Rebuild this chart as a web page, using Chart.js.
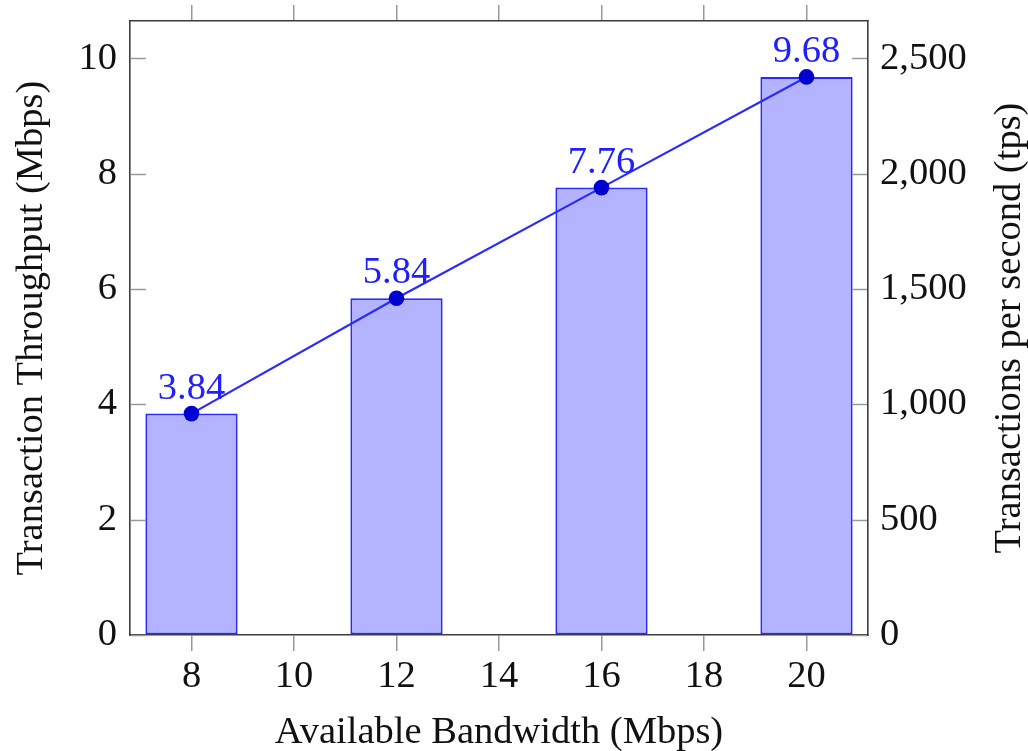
<!DOCTYPE html>
<html>
<head>
<meta charset="utf-8">
<script src="https://cdn.jsdelivr.net/npm/chart.js@4.4.1/dist/chart.umd.min.js"></script>
<style>
  html, body { margin: 0; padding: 0; background: #ffffff; }
  #wrap { width: 1028px; height: 751px; }
</style>
</head>
<body>
<div id="wrap"><canvas id="chart" width="1028" height="751"></canvas></div>
<script>
// Measured throughput per available bandwidth
const bandwidth = [8, 12, 16, 20];            // Mbps
const throughput = [3.84, 5.84, 7.76, 9.68];  // Mbps

// Tick values
const xTicks = [8, 10, 12, 14, 16, 18, 20];
const yLeftTicks = [0, 2, 4, 6, 8, 10];
const yRightTicks = [0, 500, 1000, 1500, 2000, 2500];

// Axis ranges; the right axis is the left one expressed in transactions per second
const xMin = 6.8, xMax = 21.2;
const yMax = 10.65;
const tpsPerMbps = 250;

const FONT = "'Liberation Serif', 'Times New Roman', serif";
const FONT_SIZE = 38.5;
const FRAME = '#3c3c3c';
const TICK = '#9a9a9a';
const BLUE_LINE = '#2a2aff';
const BLUE_MARK = '#0000d0';
const BLUE_FILL = '#b3b3ff';
const BLUE_TEXT = '#2020ff';

const points = bandwidth.map((b, i) => ({ x: b, y: throughput[i] }));

function setTicks(values) {
  return scale => { scale.ticks = values.map(v => ({ value: v })); };
}

// fixed axis box sizes, without extra room for overhanging labels
function fixSize(prop, size) {
  return s => {
    s[prop] = size;
    s.paddingTop = 0; s.paddingBottom = 0;
    s.paddingLeft = 0; s.paddingRight = 0;
  };
}

// y ticks point inward from the left and right frame lines
const innerTicks = {
  id: 'innerTicks',
  afterDraw(chart) {
    const { ctx, chartArea: a, scales } = chart;
    ctx.save();
    ctx.strokeStyle = TICK;
    ctx.lineWidth = 1.5;
    ctx.beginPath();
    scales.y.ticks.forEach(t => {
      const py = Math.round(scales.y.getPixelForValue(t.value)) + 0.5;
      ctx.moveTo(a.left + 1, py); ctx.lineTo(a.left + 16, py);
    });
    scales.y2.ticks.forEach(t => {
      const py = Math.round(scales.y2.getPixelForValue(t.value)) + 0.5;
      ctx.moveTo(a.right - 16, py); ctx.lineTo(a.right - 1, py);
    });
    ctx.stroke();
    ctx.restore();
  }
};

// Value labels above the line markers
const valueLabels = {
  id: 'valueLabels',
  afterDatasetsDraw(chart) {
    const { ctx } = chart;
    const meta = chart.getDatasetMeta(0);
    const data = chart.data.datasets[0].data;
    ctx.save();
    ctx.fillStyle = BLUE_TEXT;
    ctx.font = `${FONT_SIZE}px ${FONT}`;
    ctx.textAlign = 'center';
    ctx.textBaseline = 'alphabetic';
    meta.data.forEach((el, i) => {
      ctx.fillText(data[i].y.toFixed(2), el.x, el.y - 15);
    });
    ctx.restore();
  }
};

// Right-hand axis title, reading bottom to top like the left one
const rightTitle = {
  id: 'rightTitle',
  afterDraw(chart) {
    const { ctx, chartArea: a } = chart;
    ctx.save();
    ctx.fillStyle = '#111111';
    ctx.font = `${FONT_SIZE}px ${FONT}`;
    ctx.textAlign = 'center';
    ctx.textBaseline = 'alphabetic';
    ctx.translate(chart.width - 8, (a.top + a.bottom) / 2);
    ctx.rotate(-Math.PI / 2);
    ctx.fillText('Transactions per second (tps)', 0, 0);
    ctx.restore();
  }
};

new Chart(document.getElementById('chart'), {
  type: 'bar',
  data: {
    datasets: [
      {
        type: 'line',
        label: 'Transaction Throughput',
        data: points,
        xAxisID: 'x',
        yAxisID: 'y',
        borderColor: BLUE_LINE,
        borderWidth: 2.2,
        pointRadius: 7.8,
        pointBackgroundColor: BLUE_MARK,
        pointBorderColor: BLUE_MARK,
        pointBorderWidth: 0,
        tension: 0,
        order: 0
      },
      {
        type: 'bar',
        label: 'Transaction Throughput',
        data: points,
        xAxisID: 'x',
        yAxisID: 'y',
        backgroundColor: BLUE_FILL,
        borderColor: BLUE_LINE,
        borderWidth: 2,
        borderSkipped: false,
        barPercentage: 0.9,
        categoryPercentage: 1.0,
        order: 1
      }
    ]
  },
  options: {
    responsive: false,
    animation: false,
    devicePixelRatio: 1,
    layout: { padding: 0 },
    plugins: {
      legend: { display: false },
      tooltip: { enabled: false }
    },
    scales: {
      x: {
        type: 'linear',
        position: 'bottom',
        min: xMin, max: xMax,
        offset: false,
        z: 1,
        afterBuildTicks: setTicks(xTicks),
        afterFit: fixSize('height', 116),
        grid: { offset: false, drawOnChartArea: false, drawTicks: true, tickLength: 16, color: TICK, lineWidth: 1.5 },
        border: { display: true, color: FRAME, width: 1.6 },
        ticks: { color: '#111111', padding: 3, maxRotation: 0, font: { family: FONT, size: FONT_SIZE } },
        title: {
          display: true,
          text: 'Available Bandwidth (Mbps)',
          color: '#111111',
          padding: { top: 0, bottom: 0 },
          font: { family: FONT, size: FONT_SIZE, lineHeight: 0.95 }
        }
      },
      xTop: {
        type: 'linear',
        position: 'top',
        min: xMin, max: xMax,
        offset: false,
        z: 1,
        afterBuildTicks: setTicks(xTicks),
        afterFit: fixSize('height', 21),
        grid: { offset: false, drawOnChartArea: false, drawTicks: true, tickLength: 16, color: TICK, lineWidth: 1.5 },
        border: { display: true, color: FRAME, width: 1.6 },
        ticks: { display: false }
      },
      y: {
        type: 'linear',
        position: 'left',
        min: 0, max: yMax,
        z: 1,
        afterBuildTicks: setTicks(yLeftTicks),
        afterFit: fixSize('width', 130),
        grid: { drawOnChartArea: false, drawTicks: false },
        border: { display: true, color: FRAME, width: 1.6 },
        ticks: { color: '#111111', padding: 13, font: { family: FONT, size: FONT_SIZE } },
        title: {
          display: true,
          text: 'Transaction Throughput (Mbps)',
          color: '#111111',
          padding: { top: 9, bottom: 0 },
          font: { family: FONT, size: FONT_SIZE }
        }
      },
      y2: {
        type: 'linear',
        position: 'right',
        min: 0, max: yMax * tpsPerMbps,
        z: 1,
        afterBuildTicks: setTicks(yRightTicks),
        afterFit: fixSize('width', 160),
        grid: { drawOnChartArea: false, drawTicks: false },
        border: { display: true, color: FRAME, width: 1.6 },
        ticks: {
          color: '#111111', padding: 12,
          font: { family: FONT, size: FONT_SIZE },
          callback: v => v.toLocaleString('en-US')
        }
      }
    }
  },
  plugins: [valueLabels, innerTicks, rightTitle]
});
</script>
</body>
</html>
